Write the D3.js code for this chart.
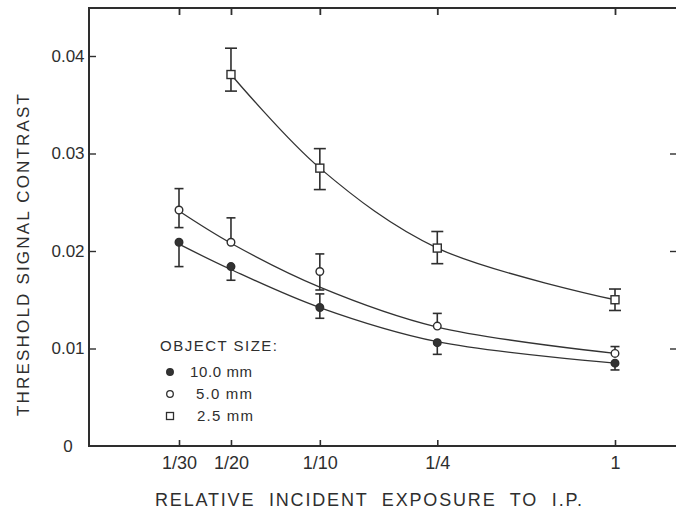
<!DOCTYPE html>
<html>
<head>
<meta charset="utf-8">
<script src="https://cdn.jsdelivr.net/npm/d3@7"></script>
<style>
  html, body { margin: 0; padding: 0; background: #fff; }
  svg { display: block; }
  text { font-family: "Liberation Sans", "DejaVu Sans", sans-serif; fill: #2e2e2e; }
</style>
</head>
<body>
<svg id="chart" width="676" height="512"></svg>
<script>
// ---- data ----
const xValues = [1/30, 1/20, 1/10, 1/4, 1];
const xTickLabels = ["1/30", "1/20", "1/10", "1/4", "1"];
const yTicks = [0, 0.01, 0.02, 0.03, 0.04];
const yTickLabels = ["0", "0.01", "0.02", "0.03", "0.04"];

// 10.0 mm (filled circles)
const size10 = [0.0209, 0.0184, 0.0142, 0.0106, 0.0085];
const size10Hi = [null, null, 0.0156, null, null];
const size10Lo = [0.0184, 0.0170, 0.0131, 0.0094, 0.0078];
const size10Fit = [0.0207, 0.0181, 0.0142, 0.0107, 0.0085];

// 5.0 mm (open circles)
const size5 = [0.0242, 0.0209, 0.0179, 0.0123, 0.0095];
const size5Hi = [0.0264, 0.0234, 0.0197, 0.0136, 0.0102];
const size5Lo = [0.0224, null, 0.0160, null, null];
const size5Fit = [0.0241, 0.0208, 0.0163, 0.0122, 0.0095];

// 2.5 mm (open squares)
const xValuesSq = [1/20, 1/10, 1/4, 1];
const size25 = [0.0381, 0.0285, 0.0203, 0.0150];
const size25Hi = [0.0408, 0.0305, 0.0220, 0.0161];
const size25Lo = [0.0364, 0.0263, 0.0187, 0.0139];
const size25Fit = [0.0381, 0.0285, 0.0203, 0.0150];

const legendTitle = "OBJECT SIZE:";
const legendLabels = ["10.0 mm", "5.0 mm", "2.5 mm"];
const legendMarkers = ["filled", "open", "square"];
const xTitle = "RELATIVE  INCIDENT  EXPOSURE  TO  I.P.";
const yTitle = "THRESHOLD SIGNAL CONTRAST";

// ---- layout ----
const svg = d3.select("#chart");
const plotLeft = 89, plotRight = 676, plotTop = 8, plotBottom = 446;
const ink = "#2e2e2e";

const x = d3.scaleLog().domain([1/30, 1]).range([179, 615]);
const y = d3.scaleLinear().domain([0, 0.04]).range([plotBottom, 56]);

// frame lines
svg.append("line").attr("x1", plotLeft).attr("x2", plotLeft).attr("y1", plotTop).attr("y2", plotBottom)
  .attr("stroke", ink).attr("stroke-width", 2);
svg.append("line").attr("x1", plotLeft - 1).attr("x2", plotRight).attr("y1", plotTop).attr("y2", plotTop)
  .attr("stroke", ink).attr("stroke-width", 2);
svg.append("line").attr("x1", plotLeft - 1).attr("x2", plotRight).attr("y1", plotBottom).attr("y2", plotBottom)
  .attr("stroke", ink).attr("stroke-width", 2);

// bottom axis
const xAxis = svg.append("g").attr("transform", `translate(0,${plotBottom})`)
  .call(d3.axisBottom(x).tickValues(xValues)
    .tickFormat((d, i) => xTickLabels[i]).tickSize(-6).tickSizeOuter(0).tickPadding(10));
xAxis.select(".domain").remove();
xAxis.selectAll("line").attr("stroke", ink).attr("stroke-width", 1.6);
xAxis.selectAll("text").attr("font-size", 18).attr("fill", ink).style("font-family", "'Liberation Sans', sans-serif");

// top ticks
const topAxis = svg.append("g").attr("transform", `translate(0,${plotTop})`)
  .call(d3.axisTop(x).tickValues(xValues).tickFormat("").tickSize(-7).tickSizeOuter(0));
topAxis.select(".domain").remove();
topAxis.selectAll("line").attr("stroke", ink).attr("stroke-width", 1.8);

// left axis
const yAxis = svg.append("g").attr("transform", `translate(${plotLeft},0)`)
  .call(d3.axisLeft(y).tickValues(yTicks)
    .tickFormat((d, i) => yTickLabels[i]).tickSize(-7).tickSizeOuter(0).tickPadding(5));
yAxis.select(".domain").remove();
yAxis.selectAll(".tick").filter(d => d === 0).select("line").remove();
yAxis.selectAll("line").attr("stroke", ink).attr("stroke-width", 1.4);
yAxis.selectAll("text").attr("font-size", 17).attr("fill", ink)
  .attr("text-anchor", "middle").attr("x", -21);

// right ticks
const rAxis = svg.append("g").attr("transform", `translate(${plotRight},0)`)
  .call(d3.axisRight(y).tickValues([0.01, 0.02, 0.03]).tickFormat("").tickSize(-6).tickSizeOuter(0));
rAxis.select(".domain").remove();
rAxis.selectAll("line").attr("stroke", ink).attr("stroke-width", 1.4);

// axis titles
svg.append("text").attr("x", 155).attr("y", 506)
  .attr("font-size", 18).attr("textLength", 427).attr("lengthAdjust", "spacing")
  .style("white-space", "pre").text(xTitle);
svg.append("text").attr("transform", "translate(29,255) rotate(-90)")
  .attr("text-anchor", "middle").attr("font-size", 17)
  .attr("textLength", 322).attr("lengthAdjust", "spacing").text(yTitle);

// fitted curves
const line = d3.line().x(d => x(d[0])).y(d => y(d[1])).curve(d3.curveCatmullRom.alpha(0.5));
const curves = [
  xValues.map((v, i) => [v, size10Fit[i]]),
  xValues.map((v, i) => [v, size5Fit[i]]),
  xValuesSq.map((v, i) => [v, size25Fit[i]])
];
svg.selectAll("path.fit").data(curves).enter().append("path")
  .attr("class", "fit").attr("d", line)
  .attr("fill", "none").attr("stroke", "#333").attr("stroke-width", 1.3);

// error bars
function errorBars(xs, vals, his, los, capW) {
  const g = svg.append("g").attr("stroke", ink).attr("stroke-width", 1.6);
  xs.forEach((xv, i) => {
    [his[i], los[i]].forEach(e => {
      if (e == null) return;
      g.append("line").attr("x1", x(xv)).attr("x2", x(xv)).attr("y1", y(vals[i])).attr("y2", y(e));
      g.append("line").attr("x1", x(xv) - capW / 2).attr("x2", x(xv) + capW / 2)
        .attr("y1", y(e)).attr("y2", y(e));
    });
  });
}
errorBars(xValues, size10, size10Hi, size10Lo, 9);
errorBars(xValues, size5, size5Hi, size5Lo, 9);
errorBars(xValuesSq, size25, size25Hi, size25Lo, 12);

// markers
function drawMarker(g, type, cx, cy) {
  if (type === "square") {
    g.append("rect").attr("x", cx - 4).attr("y", cy - 4).attr("width", 8).attr("height", 8)
      .attr("fill", "#fff").attr("stroke", ink).attr("stroke-width", 1.4);
  } else {
    g.append("circle").attr("cx", cx).attr("cy", cy).attr("r", 3.8)
      .attr("fill", type === "filled" ? "#333" : "#fff").attr("stroke", ink).attr("stroke-width", 1.4);
  }
}
const mg = svg.append("g");
xValues.forEach((v, i) => drawMarker(mg, "filled", x(v), y(size10[i])));
xValues.forEach((v, i) => drawMarker(mg, "open", x(v), y(size5[i])));
xValuesSq.forEach((v, i) => drawMarker(mg, "square", x(v), y(size25[i])));

// legend
const lg = svg.append("g");
lg.append("text").attr("x", 160).attr("y", 351).attr("font-size", 15)
  .attr("textLength", 117).attr("lengthAdjust", "spacing").text(legendTitle);
const legendTextX = [190, 196, 197];
const legendTextLen = [62, 56, 56];
legendLabels.forEach((lab, i) => {
  const cy = 372 + i * 22;
  const lm = lg.append("g");
  if (legendMarkers[i] === "square") {
    lm.append("rect").attr("x", 166.5).attr("y", cy - 3.5).attr("width", 7).attr("height", 7)
      .attr("fill", "#fff").attr("stroke", ink).attr("stroke-width", 1.3);
  } else {
    lm.append("circle").attr("cx", 170).attr("cy", cy).attr("r", 3.3)
      .attr("fill", legendMarkers[i] === "filled" ? "#333" : "#fff").attr("stroke", ink).attr("stroke-width", 1.3);
  }
  lg.append("text").attr("x", legendTextX[i]).attr("y", cy + 5).attr("font-size", 15)
    .attr("textLength", legendTextLen[i]).attr("lengthAdjust", "spacing").text(lab);
});
</script>
</body>
</html>
